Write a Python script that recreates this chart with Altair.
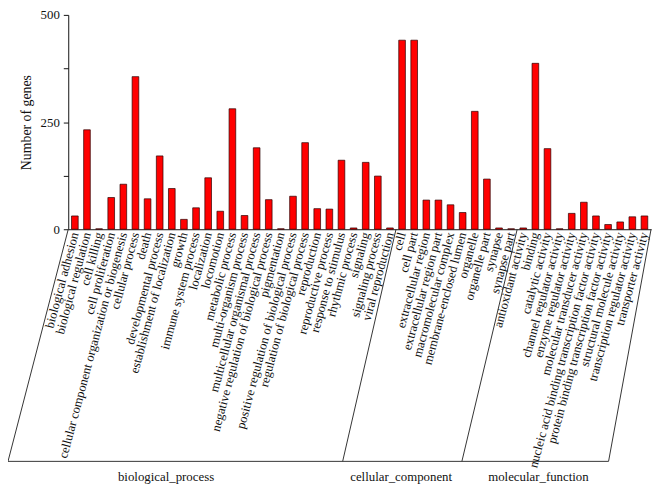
import altair as alt
import pandas as pd

bp_terms = [
    "biological adhesion", "biological regulation", "cell killing", "cell proliferation",
    "cellular component organization or biogenesis", "cellular process", "death",
    "developmental process", "establishment of localization", "growth",
    "immune system process", "localization", "locomotion", "metabolic process",
    "multi-organism process", "multicellular organismal process",
    "negative regulation of biological process", "pigmentation",
    "positive regulation of biological process", "regulation of biological process",
    "reproduction", "reproductive process", "response to stimulus", "rhythmic process",
    "signaling", "signaling process", "viral reproduction",
]
bp_counts = [31, 232, 1, 74, 105, 356, 71, 171, 95, 23, 50, 120, 42, 281, 32, 190,
             69, 1, 77, 202, 48, 47, 161, 3, 156, 124, 3]

cc_terms = [
    "cell", "cell part", "extracellular region", "extracellular region part",
    "macromolecular complex", "membrane-enclosed lumen", "organelle", "organelle part",
    "synapse", "synapse part",
]
cc_counts = [441, 441, 68, 68, 57, 39, 275, 117, 3, 1]

mf_terms = [
    "antioxidant activity", "binding", "catalytic activity", "channel regulator activity",
    "enzyme regulator activity", "molecular transducer activity",
    "nucleic acid binding transcription factor activity",
    "protein binding transcription factor activity", "structural molecule activity",
    "transcription regulator activity", "transporter activity",
]
mf_counts = [3, 387, 188, 1, 37, 63, 31, 11, 17, 29, 31]

group_names = ["biological_process", "cellular_component", "molecular_function"]
y_ticks = [0, 125, 250, 375, 500]

terms = bp_terms + cc_terms + mf_terms
counts = bp_counts + cc_counts + mf_counts
df = pd.DataFrame({"term": terms, "count": counts})

FONT = "Liberation Serif, Times New Roman, DejaVu Serif, serif"
W, H = 590, 217
PAD_IN, PAD_OUT = 0.45, 0.27
n = len(terms)
step = W / (n - PAD_IN + 2 * PAD_OUT)

def boundary(i):
    return step * (PAD_OUT + i - PAD_IN / 2)

b1 = boundary(len(bp_terms))
b2 = boundary(len(bp_terms) + len(cc_terms))
YB = H + 235

bars = alt.Chart(df).mark_bar(
    color="#FF0000", stroke="#2a0000", strokeWidth=0.7
).encode(
    x=alt.X("term:N", sort=terms, title=None,
            scale=alt.Scale(paddingInner=PAD_IN, paddingOuter=PAD_OUT),
            axis=alt.Axis(labelAngle=285, labelAlign="right", labelBaseline="middle",
                          labelFont=FONT, labelFontSize=12.8, labelColor="#111",
                          labelPadding=3, ticks=False, domainColor="#111",
                          labelOverlap=False, labelLimit=400)),
    y=alt.Y("count:Q", title="Number of genes",
            scale=alt.Scale(domain=[0, 500], nice=False),
            axis=alt.Axis(values=y_ticks, grid=False, tickSize=5, tickColor="#111",
                          domainColor="#111",
                          labelExpr="datum.value % 250 == 0 ? datum.label : ''",
                          labelFont=FONT, labelFontSize=13, labelColor="#111",
                          labelPadding=4, titleFont=FONT, titleFontSize=14,
                          titleFontWeight="normal", titleColor="#111",
                          titlePadding=7)),
)

def seg(x0, y0, x1, y1):
    return alt.Chart(alt.Data(values=[{}])).mark_rule(
        color="#333", strokeWidth=1
    ).encode(x=alt.value(x0), x2=alt.value(x1), y=alt.value(y0), y2=alt.value(y1))

lines = [
    seg(0, H, -61, YB),
    seg(b1, H, b1 - 54, YB),
    seg(b2, H, b2 - 56, YB),
    seg(W, H, W - 43, YB),
    seg(-61, YB, W - 43, YB),
]

label_x = [99, 337, 476]
texts = [
    alt.Chart(alt.Data(values=[{}])).mark_text(
        font=FONT, fontSize=13, color="#111", align="center", baseline="middle"
    ).encode(x=alt.value(lx), y=alt.value(YB + 16), text=alt.value(name))
    for name, lx in zip(group_names, label_x)
]

chart = alt.layer(bars, *lines, *texts).properties(
    width=W, height=H,
    autosize=alt.AutoSizeParams(type="none"),
    padding={"left": 61, "top": 4, "right": 4, "bottom": 261},
    background="white",
).configure_view(stroke=None)

chart.save("out.html", embed_options={"renderer": "svg", "actions": False})
